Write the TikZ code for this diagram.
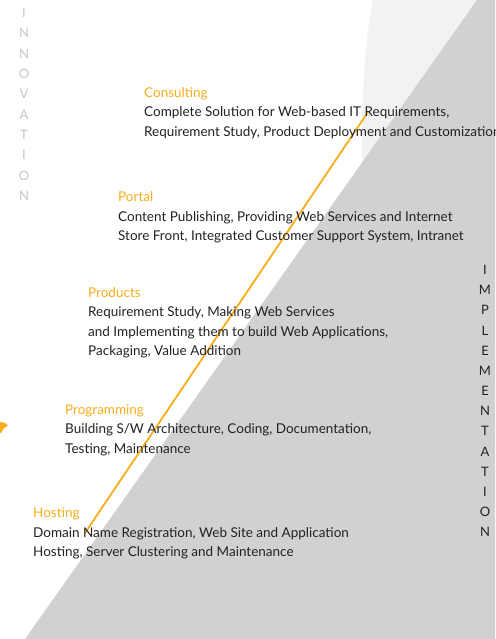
\documentclass[tikz,border=0pt]{standalone}
\usepackage{fontspec}
\setmainfont{Lato}
\definecolor{orng}{HTML}{F7AE1B}
\definecolor{txt}{HTML}{222222}
\definecolor{lightbg}{HTML}{F1F2F4}
\definecolor{darkbg}{HTML}{D0D1D3}
\definecolor{innov}{HTML}{C6C6C6}
\begin{document}
\begin{tikzpicture}[x=1pt,y=1pt,
  title/.style={anchor=base west,inner sep=0pt,text=orng,font=\fontsize{13.5}{16}\selectfont},
  body/.style={anchor=base west,inner sep=0pt,text=txt,font=\fontsize{13.5}{16}\selectfont},
  vletter/.style={inner sep=0pt,font=\fontsize{13}{15}\selectfont}]
\useasboundingbox (0,0) rectangle (495,639);
\fill[white] (0,0) rectangle (495,639);
% light circle region
\begin{scope}
\clip (0,0) rectangle (495,639);
\fill[lightbg] (1162,509) circle[radius=800];
\end{scope}
% dark triangle
\fill[darkbg] (477,639) -- (495,639) -- (495,0) -- (25,0) -- cycle;
% orange line
\coordinate (lineA) at (85,106);
\coordinate (lineB) at (368,527);
\draw[orng,line width=1.8pt] (lineA) -- (lineB);
% small orange mark at left
\fill[orng] (0,217) -- (5,216) -- (8,213.5) -- (4,211) -- (1,206) -- (0,206) -- cycle;
% INNOVATION
\foreach \l [count=\i from 0] in {I,N,N,O,V,A,T,I,O,N}
  \node[vletter,text=innov] (inn\i) at (24,{626-20.3*\i}) {\l};
% IMPLEMENTATION
\foreach \l [count=\i from 0] in {I,M,P,L,E,M,E,N,T,A,T,I,O,N}
  \node[vletter,text=txt] (imp\i) at (485,{369-20.15*\i}) {\l};
% Consulting
\node[title] (t1) at (144,541) {Consulting};
\node[body] (b1a) at (144,522) {Complete Solution for Web-based IT Requirements,};
\node[body] (b1b) at (144,502.5) {Requirement Study, Product Deployment and Customization};
% Portal
\node[title] (t2) at (118,437) {Portal};
\node[body] (b2a) at (118,417.5) {Content Publishing, Providing Web Services and Internet};
\node[body] (b2b) at (118,398) {Store Front, Integrated Customer Support System, Intranet};
% Products
\node[title] (t3) at (88,341) {Products};
\node[body] (b3a) at (88,322) {Requirement Study, Making Web Services};
\node[body] (b3b) at (88,302.5) {and Implementing them to build Web Applications,};
\node[body] (b3c) at (88,283) {Packaging, Value Addition};
% Programming
\node[title] (t4) at (65,224.5) {Programming};
\node[body] (b4a) at (65,205) {Building S/W Architecture, Coding, Documentation,};
\node[body] (b4b) at (65,185.5) {Testing, Maintenance};
% Hosting
\node[title] (t5) at (33,121) {Hosting};
\node[body] (b5a) at (33,101.5) {Domain Name Registration, Web Site and Application};
\node[body] (b5b) at (33,82) {Hosting, Server Clustering and Maintenance};
\end{tikzpicture}
\end{document}
